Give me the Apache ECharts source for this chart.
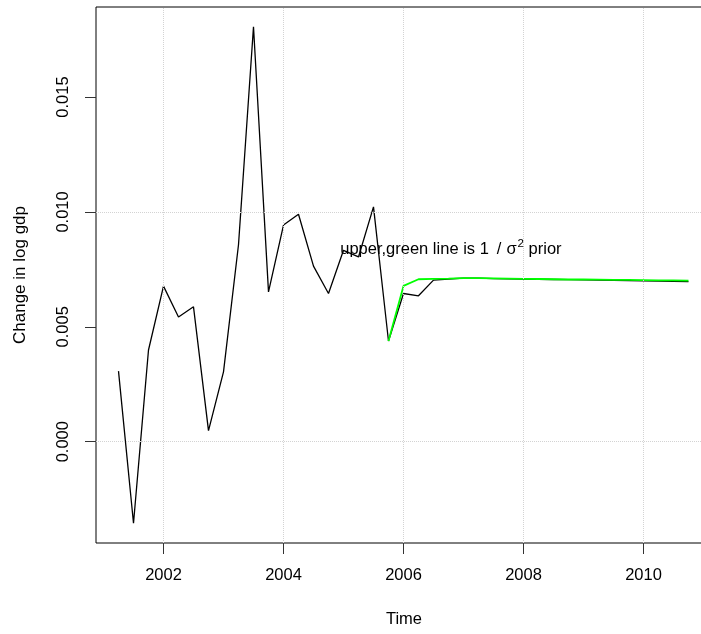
<!DOCTYPE html>
<html>
<head>
<meta charset="utf-8">
<script src="https://cdn.jsdelivr.net/npm/echarts@6/dist/echarts.min.js"></script>
<style>
  html, body { margin: 0; padding: 0; background: #fff; overflow: hidden; }
  /* the plot box runs past the right edge of the window, as in the original */
  #chart { width: 712px; height: 634px; }
</style>
</head>
<body>
<div id="chart"></div>
<script>
// quarterly time index
const times = [
  2001.25, 2001.5, 2001.75, 2002, 2002.25, 2002.5, 2002.75, 2003, 2003.25, 2003.5,
  2003.75, 2004, 2004.25, 2004.5, 2004.75, 2005, 2005.25, 2005.5, 2005.75, 2006,
  2006.25, 2006.5, 2006.75, 2007, 2007.25, 2007.5, 2007.75, 2008, 2008.25, 2008.5,
  2008.75, 2009, 2009.25, 2009.5, 2009.75, 2010, 2010.25, 2010.5, 2010.75
]
// black line: change in log gdp (data + forecast)
const gdpValues = [
  0.00307, -0.00355, 0.00399, 0.00677, 0.00543, 0.00587, 0.00048, 0.00304, 0.00857, 0.01806,
  0.00652, 0.00943, 0.00990, 0.00764, 0.00645, 0.00833, 0.00804, 0.01022, 0.00438, 0.00645,
  0.00635, 0.00703, 0.00708, 0.00712, 0.00712, 0.00710, 0.00709, 0.00708, 0.00707, 0.00706,
  0.00705, 0.00704, 0.00703, 0.00702, 0.00701, 0.00700, 0.00699, 0.00698, 0.00697
]
// green line: 1/sigma^2 prior, starts at 2005.75
const greenStart = 2005.75
const priorValues = [
  0.00438, 0.00678, 0.00707, 0.00709, 0.00710, 0.00712, 0.00712, 0.00711, 0.00710, 0.00709,
  0.00708, 0.00707, 0.00706, 0.00706, 0.00705, 0.00704, 0.00704, 0.00703, 0.00702, 0.00702,
  0.00701
]
const xTicks = [2002, 2004, 2006, 2008, 2010]
const yTicks = [0, 0.005, 0.010, 0.015]
const noteAt = [2006.79, 0.00838]

const font = 'Liberation Sans, Arial, sans-serif'
const fs = 16.5
const chart = echarts.init(document.getElementById('chart'))

const gdpData = times.map((t, i) => [t, gdpValues[i]])
const i0 = times.indexOf(greenStart)
const priorData = priorValues.map((v, i) => [times[i0 + i], v])

const xMin = 2000.875, xMax = 2011.142
const yMin = -0.00441, yMax = 0.01892
const tickLen = 11
const tickColor = '#333'

const option = {
  animation: false,
  backgroundColor: '#fff',
  grid: {
    left: 96, top: 7, right: 0, bottom: 91,
    show: true, borderColor: '#000', borderWidth: 1, backgroundColor: 'transparent'
  },
  xAxis: {
    type: 'value',
    min: xMin,
    max: xMax,
    name: 'Time',
    nameLocation: 'middle',
    nameGap: 68,
    nameTextStyle: { fontFamily: font, fontSize: fs, color: '#000' },
    // keep the axis at the bottom: its zero reference is a helper axis without 0
    axisLine: { show: false, onZeroAxisIndex: 1 },
    axisTick: { show: true, customValues: xTicks, length: tickLen, lineStyle: { color: tickColor } },
    axisLabel: {
      customValues: xTicks, margin: 24, fontFamily: font, fontSize: fs, color: '#000',
      formatter: v => String(v)
    },
    splitLine: { show: false }
  },
  yAxis: [{
    type: 'value',
    min: yMin,
    max: yMax,
    name: 'Change in log gdp',
    nameLocation: 'middle',
    nameGap: 67,
    nameTextStyle: { fontFamily: font, fontSize: 17, color: '#000' },
    axisLine: { show: false },
    axisTick: { show: true, customValues: yTicks, length: tickLen, lineStyle: { color: tickColor } },
    axisLabel: {
      customValues: yTicks, rotate: 90, margin: 24, fontFamily: font, fontSize: fs, color: '#000',
      formatter: v => v.toFixed(3)
    },
    splitLine: { show: false }
  }, {
    type: 'value',
    position: 'right',
    min: 1,
    max: 2,
    axisLine: { show: false },
    axisTick: { show: false },
    axisLabel: { show: false },
    splitLine: { show: false }
  }],
  series: [
    {
      type: 'line',
      data: gdpData,
      showSymbol: false,
      lineStyle: { color: '#000', width: 1.3 },
      z: 3,
      markLine: {
        silent: true,
        symbol: 'none',
        label: { show: false },
        lineStyle: { type: 'dotted', color: '#d3d3d3', width: 1 },
        data: xTicks.map(v => ({ xAxis: v })).concat(yTicks.map(v => ({ yAxis: v })))
      }
    },
    {
      type: 'line',
      data: priorData,
      showSymbol: false,
      lineStyle: { color: '#00ff00', width: 1.8 },
      z: 4
    },
    {
      // tick marks below the x axis
      type: 'custom',
      clip: false,
      silent: true,
      z: 10,
      data: xTicks.map(v => [v, yMin]),
      encode: { x: 0, y: 1 },
      renderItem: (params, api) => {
        const p = api.coord([api.value(0), api.value(1)])
        const x = Math.round(p[0]) + 0.5
        return {
          type: 'line',
          shape: { x1: x, y1: p[1], x2: x, y2: p[1] + tickLen },
          style: { stroke: tickColor, lineWidth: 1 }
        }
      }
    },
    {
      type: 'scatter',
      data: [noteAt],
      symbolSize: 0,
      itemStyle: { opacity: 1 },
      z: 5,
      label: {
        show: true,
        position: 'inside',
        formatter: '{a|upper,green line is 1}{s|/}{a|σ}{b|2}{a| prior}',
        rich: {
          a: { fontFamily: font, fontSize: fs, color: '#000' },
          s: { fontFamily: font, fontSize: fs, color: '#000', padding: [0, 5, 0, 8] },
          b: { fontFamily: font, fontSize: 11.5, color: '#000', padding: [0, 0, 10, 1] }
        }
      }
    }
  ]
}
chart.setOption(option)
</script>
</body>
</html>
